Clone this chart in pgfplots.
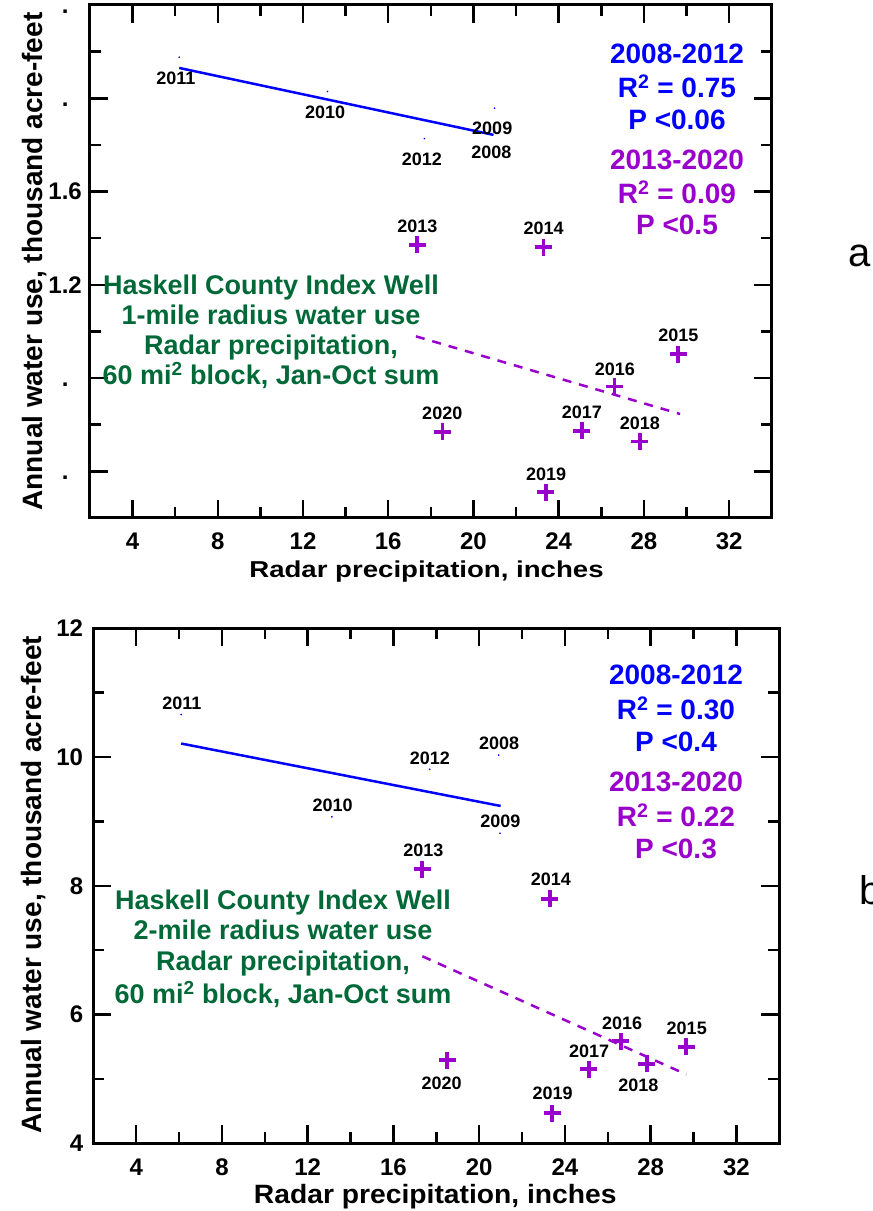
\documentclass[border=0pt]{standalone}
\usepackage{fontspec}
\setmainfont{Liberation Sans}
\usepackage{graphicx}
\usepackage{pgfplots}
\pgfplotsset{compat=1.18}
\definecolor{myblue}{RGB}{0,0,255}
\definecolor{mypurple}{RGB}{153,0,204}
\definecolor{mygreen}{RGB}{0,105,55}
\newcommand\fs[1]{\fontsize{#1}{#1}\selectfont}
\newcommand\yr[4]{\node[font=\bfseries\fs{18}, xshift=#3pt, yshift=#4pt] at (axis cs:#1) {#2};}
\newcommand\dotlab{\raisebox{-8.3pt}[0pt][0pt]{\hphantom{2}.\hphantom{4}}}
\pgfplotsset{
  mystyle/.style={
    scale only axis, clip=false,
    xmin=2, xmax=34, xtick={4,8,...,32}, minor x tick num=1,
    axis line style={line width=3pt},
    every tick/.style={line width=2.5pt, black},
    major tick length=18pt, minor tick length=11pt,
    tick align=inside,
    /pgf/number format/assume math mode=true,
    tick label style={font=\bfseries\fs{24}},
    xticklabel style={anchor=center, yshift=-23.5pt},
    yticklabel style={anchor=east, inner sep=0pt},
  }
}
\begin{document}
\begin{tikzpicture}
\path[use as bounding box] (0,0) rectangle (873pt,1211pt);
% ---------- top panel ----------
\begin{axis}[mystyle, at={(90pt,693pt)}, anchor=south west,
  width=681.7pt, height=513pt,
  ymin=0.2, ymax=2.4, ytick={0.4,0.8,1.2,1.6,2.0,2.4},
  yticklabels={\dotlab,\dotlab,1.2,1.6,\dotlab,\dotlab},
  minor y tick num=1, yticklabel style={xshift=-8pt}]
\addplot[only marks, mark=*, mark size=0.6pt, color=myblue] coordinates {
 (20.95,1.856) (20.99,1.957) (13.15,2.029) (6.19,2.176) (17.70,1.827)};
\addplot[myblue, line width=2.5pt] coordinates {(6.19,2.130) (20.94,1.843)};
\addplot[mypurple, line width=2.5pt, dash pattern=on 9pt off 8pt] coordinates {(17.30,0.979) (29.70,0.646)};
\addplot[only marks, mark=+, mark size=8.5pt, mark options={line width=3.8pt}, color=mypurple] coordinates {
 (17.35,1.372) (23.29,1.362) (29.61,0.903) (26.62,0.764) (25.09,0.574) (27.81,0.528) (23.40,0.310) (18.55,0.569)};
\yr{6.19,2.176}{2011}{-3.3}{-20.7}
\yr{13.15,2.029}{2010}{-2.5}{-21}
\yr{20.99,1.957}{2009}{-2.3}{-20.5}
\yr{17.70,1.827}{2012}{-2.5}{-20.5}
\yr{20.95,1.856}{2008}{-2.3}{-20.5}
\yr{17.35,1.372}{2013}{0.3}{18.3}
\yr{23.29,1.362}{2014}{0.2}{18.3}
\yr{29.61,0.903}{2015}{0.3}{18.3}
\yr{26.62,0.764}{2016}{0.4}{17.6}
\yr{25.09,0.574}{2017}{0}{18.3}
\yr{27.81,0.528}{2018}{0.1}{18.4}
\yr{23.40,0.310}{2019}{0.3}{18.4}
\yr{18.55,0.569}{2020}{-0.3}{18.3}
\end{axis}
% ---------- bottom panel ----------
\begin{axis}[mystyle, at={(93.3pt,67.7pt)}, anchor=south west,
  width=686pt, height=515pt,
  ymin=4, ymax=12, ytick={4,6,8,10,12},
  minor y tick num=1, yticklabel style={xshift=-10pt}]
\addplot[only marks, mark=*, mark size=0.6pt, color=myblue] coordinates {
 (20.91,10.03) (20.97,8.815) (13.13,9.07) (6.10,10.66) (17.69,9.81)};
\addplot[myblue, line width=2.5pt] coordinates {(6.10,10.21) (21.0,9.24)};
\addplot[mypurple, line width=2.5pt, dash pattern=on 9pt off 8pt] coordinates {(17.35,6.905) (29.66,5.07)};
\addplot[only marks, mark=+, mark size=8.5pt, mark options={line width=3.8pt}, color=mypurple] coordinates {
 (17.35,8.256) (23.29,7.80) (29.65,5.50) (26.60,5.585) (25.11,5.15) (27.81,5.233) (23.41,4.47) (18.50,5.29)};
\yr{6.10,10.66}{2011}{0.6}{11.5}
\yr{13.13,9.07}{2010}{0.7}{11.7}
\yr{17.69,9.81}{2012}{0.3}{11.3}
\yr{20.91,10.03}{2008}{0.5}{12.2}
\yr{20.97,8.815}{2009}{0.5}{12}
\yr{17.35,8.256}{2013}{1}{19}
\yr{23.29,7.80}{2014}{1.2}{19}
\yr{29.65,5.50}{2015}{0.7}{18.4}
\yr{26.60,5.585}{2016}{1.5}{18.3}
\yr{25.11,5.15}{2017}{0.5}{18.3}
\yr{27.81,5.233}{2018}{-8.3}{-21.3}
\yr{23.41,4.47}{2019}{0.3}{19.4}
\yr{18.50,5.29}{2020}{-5.3}{-23.3}
\end{axis}
% ---------- axis labels ----------
\node[font=\bfseries\fs{28}, rotate=90, anchor=base] at (42pt,949.5pt) {Annual water use, thousand acre-feet};
\node[font=\bfseries\fs{28}, rotate=90, anchor=base] at (41.7pt,326.2pt) {Annual water use, thousand acre-feet};
\node[font=\bfseries\fs{23}, anchor=base, inner sep=0pt] at (426.5pt,633.7pt) {\scalebox{1.2}[1]{Radar precipitation, inches}};
\node[font=\bfseries\fs{26.5}, anchor=base, inner sep=0pt] at (435.3pt,7pt) {\scalebox{1.066}[1]{Radar precipitation, inches}};
\node[font=\fs{40}, anchor=base, inner sep=0pt] at (860pt,944.3pt) {a};
\node[font=\fs{40}, anchor=base, inner sep=0pt] at (871pt,306pt) {b};
% ---------- statistics ----------
\begin{scope}[every node/.style={font=\bfseries\fs{28}, anchor=base, inner sep=0pt}]
\node[myblue] at (677pt,1147pt) {2008-2012};
\node[myblue] at (677pt,1113pt) {R\textsuperscript{2} = 0.75};
\node[myblue] at (677pt,1081pt) {P <0.06};
\node[mypurple] at (677pt,1041pt) {2013-2020};
\node[mypurple] at (677pt,1007pt) {R\textsuperscript{2} = 0.09};
\node[mypurple] at (677pt,976pt) {P <0.5};
\node[myblue] at (676pt,526pt) {2008-2012};
\node[myblue] at (676pt,491pt) {R\textsuperscript{2} = 0.30};
\node[myblue] at (676pt,459.3pt) {P <0.4};
\node[mypurple] at (676pt,419.3pt) {2013-2020};
\node[mypurple] at (676pt,384.3pt) {R\textsuperscript{2} = 0.22};
\node[mypurple] at (676pt,352.7pt) {P <0.3};
\end{scope}
% ---------- green descriptions ----------
\begin{scope}[every node/.style={font=\bfseries\fs{27}, anchor=base, inner sep=0pt, text=mygreen}]
\node at (271pt,916pt) {Haskell County Index Well};
\node at (271pt,886pt) {1-mile radius water use};
\node at (271pt,856pt) {Radar precipitation,};
\node at (271pt,826pt) {60 mi\textsuperscript{2} block, Jan-Oct sum};
\node at (283pt,301.7pt) {Haskell County Index Well};
\node at (283pt,271pt) {2-mile radius water use};
\node at (283pt,240.3pt) {Radar precipitation,};
\node at (283pt,207pt) {60 mi\textsuperscript{2} block, Jan-Oct sum};
\end{scope}
\end{tikzpicture}
\end{document}
